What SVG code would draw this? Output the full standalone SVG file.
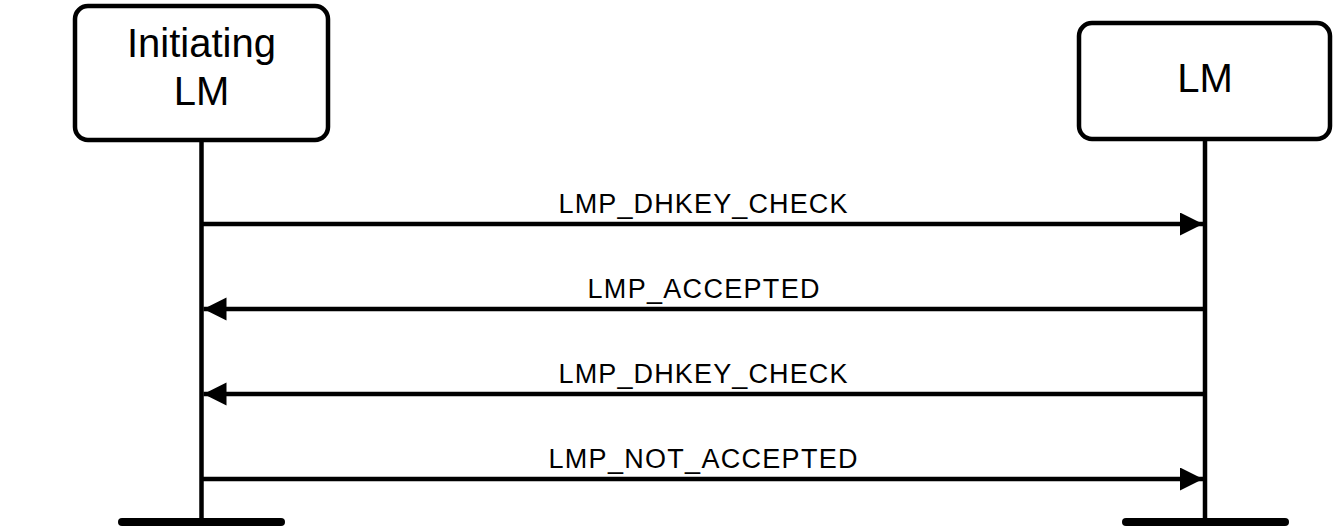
<svg xmlns="http://www.w3.org/2000/svg" width="1338" height="531" viewBox="0 0 1338 531">
  <defs>
    <marker id="arrow" markerUnits="userSpaceOnUse" markerWidth="24" markerHeight="24" refX="23" refY="11.5" orient="auto">
      <path d="M0,0 L23,11.5 L0,23 Z" fill="#000"/>
    </marker>
  </defs>
  <style>
    .box { fill: #fff; stroke: #000; stroke-width: 4.5; }
    .life { stroke: #000; stroke-width: 4.5; fill: none; }
    .bar { stroke: #000; stroke-width: 8; stroke-linecap: round; fill: none; }
    .msg { stroke: #000; stroke-width: 4.5; fill: none; marker-end: url(#arrow); }
    .title { font-family: "Liberation Sans", Arial, sans-serif; font-size: 40px; text-anchor: middle; fill: #000; }
    .label { font-family: "Liberation Sans", Arial, sans-serif; font-size: 27px; text-anchor: middle; fill: #000; }
  </style>
  <rect width="1338" height="531" fill="#fff"/>
  <g id="node-initiating-lm">
    <line class="life" x1="201.5" y1="140" x2="201.5" y2="522"/>
    <line class="bar" x1="122" y1="522" x2="281" y2="522"/>
    <rect class="box" x="75" y="6" width="253" height="134" rx="13"/>
    <text class="title" x="201.5" y="57">Initiating</text>
    <text class="title" x="201.5" y="105">LM</text>
  </g>
  <g id="node-lm">
    <line class="life" x1="1205" y1="139" x2="1205" y2="522"/>
    <line class="bar" x1="1126" y1="522" x2="1285" y2="522"/>
    <rect class="box" x="1079" y="23" width="251" height="116" rx="13"/>
    <text class="title" x="1205" y="92">LM</text>
  </g>
  <g id="connectors">
    <line class="msg" x1="203" y1="224" x2="1203" y2="224"/>
    <text class="label" x="703" y="213" textLength="289" lengthAdjust="spacing">LMP_DHKEY_CHECK</text>
    <line class="msg" x1="1203" y1="309" x2="203.5" y2="309"/>
    <text class="label" x="703.5" y="298" textLength="232" lengthAdjust="spacing">LMP_ACCEPTED</text>
    <line class="msg" x1="1203" y1="394" x2="203.5" y2="394"/>
    <text class="label" x="703" y="383" textLength="289" lengthAdjust="spacing">LMP_DHKEY_CHECK</text>
    <line class="msg" x1="203" y1="479" x2="1203" y2="479"/>
    <text class="label" x="703" y="468" textLength="309" lengthAdjust="spacing">LMP_NOT_ACCEPTED</text>
  </g>
</svg>
